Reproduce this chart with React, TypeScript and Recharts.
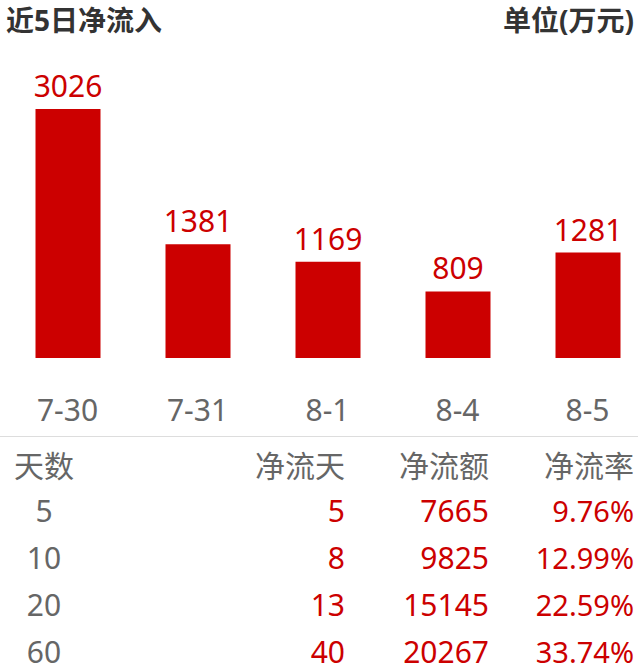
import React from "react";
import { BarChart, Bar, XAxis, YAxis, LabelList } from "recharts";

const days = ["7-30", "7-31", "8-1", "8-4", "8-5"];
const inflow = [3026, 1381, 1169, 809, 1281];

const tableHead = ["天数", "净流天", "净流额", "净流率"];
const periods = ["5", "10", "20", "60"];
const netDays = ["5", "8", "13", "40"];
const netAmount = ["7665", "9825", "15145", "20267"];
const netRate = ["9.76%", "12.99%", "22.59%", "33.74%"];

const RED = "#cc0000";
const GRAY = "#666666";
const FONT = "'Noto Sans', 'Noto Sans CJK SC', sans-serif";

const data = days.map((d, i) => ({ day: d, value: inflow[i] }));

const DayTick = (props: any) => {
  const { x, y, payload } = props;
  return (
    <text x={x} y={y + 63} textAnchor="middle" fill={GRAY} fontSize={30} fontFamily={FONT}>
      {payload.value}
    </text>
  );
};

export default function App() {
  const colX = [44, 345, 489, 634];
  const rowY = [522, 569, 616, 663];
  return (
    <div style={{ position: "absolute", left: 0, top: 0, width: 638, height: 672, overflow: "hidden", background: "#fff" }}>
      <svg width={638} height={672} style={{ position: "absolute", left: 0, top: 0 }} fontFamily={FONT}>
        <text x={6} y={31} fontSize={28} fontWeight="bold" fill="#333">近5日净流入</text>
        <text x={634} y={31} fontSize={28} fontWeight="bold" fill="#333" textAnchor="end">单位(万元)</text>
        <line x1={0} x2={638} y1={436.5} y2={436.5} stroke="#dddddd" strokeWidth={1} />
        {tableHead.map((h, i) => (
          <text key={h} x={colX[i]} y={477} fontSize={30} fill={GRAY} textAnchor={i === 0 ? "middle" : "end"}>{h}</text>
        ))}
        {periods.map((p, r) => (
          <g key={p}>
            <text x={colX[0]} y={rowY[r]} fontSize={30} fill={GRAY} textAnchor="middle">{p}</text>
            <text x={colX[1]} y={rowY[r]} fontSize={30} fill={RED} textAnchor="end">{netDays[r]}</text>
            <text x={colX[2]} y={rowY[r]} fontSize={30} fill={RED} textAnchor="end">{netAmount[r]}</text>
            <text x={colX[3]} y={rowY[r]} fontSize={29} fill={RED} textAnchor="end">{netRate[r]}</text>
          </g>
        ))}
      </svg>
      <div style={{ position: "absolute", left: 0, top: 0 }}>
        <BarChart width={655} height={440} data={data} margin={{ top: 109, right: 2.5, left: 2.5, bottom: 0 }}>
          <XAxis dataKey="day" axisLine={false} tickLine={false} tickSize={0} tickMargin={0} height={82} tick={<DayTick />} interval={0} />
          <YAxis hide domain={[0, 3026]} />
          <Bar dataKey="value" fill={RED} barSize={65} isAnimationActive={false}>
            <LabelList dataKey="value" position="top" offset={12} fill={RED} fontSize={30} fontFamily={FONT} />
          </Bar>
        </BarChart>
      </div>
    </div>
  );
}
